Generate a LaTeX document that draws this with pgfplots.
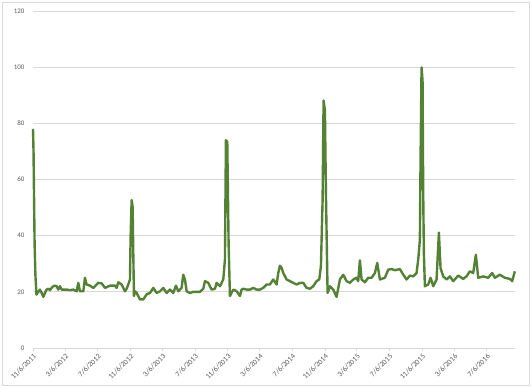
\documentclass[border=0pt]{standalone}
\usepackage{pgfplots}
\pgfplotsset{compat=1.18}
\usepackage{fontspec}
\setmainfont{Carlito}
\definecolor{linegreen}{RGB}{84,130,53}
\definecolor{gridgray}{RGB}{217,217,217}
\definecolor{labelgray}{RGB}{89,89,89}
\begin{document}
\begin{tikzpicture}
\path (0,0) rectangle (532bp,388bp);
\draw[gridgray, line width=0.6bp] (2.5bp,2.5bp) rectangle (529.5bp,385.5bp);
\begin{axis}[
  at={(33bp,40bp)}, anchor=south west,
  scale only axis, width=482bp, height=337bp,
  xmin=0, xmax=1810, ymin=0, ymax=120,
  ytick={0,20,...,120},
  xtick={0,121,243,366,486,608,731,851,973,1096,1216,1338,1461,1582,1704},
  xticklabels={11/6/2011,3/6/2012,7/6/2012,11/6/2012,3/6/2013,7/6/2013,11/6/2013,3/6/2014,7/6/2014,11/6/2014,3/6/2015,7/6/2015,11/6/2015,3/6/2016,7/6/2016},
  axis x line*=bottom, axis y line*=left,
  x axis line style={gridgray, line width=0.7bp, -},
  y axis line style={draw=none},
  ymajorgrids, grid style={gridgray, line width=0.7bp},
  major tick length=3bp,
  xtick style={gridgray, line width=0.7bp},
  tick align=outside,
  ytick style={draw=none},
  /pgf/number format/assume math mode=true,
  every tick label/.append style={font=\fontsize{7}{8}\selectfont, text=labelgray},
  xticklabel style={rotate=45, anchor=north east, inner sep=1.5bp, font=\fontsize{7.5}{8}\selectfont},
  yticklabel style={anchor=east, xshift=-2bp},
  clip=false,
]
\addplot[linegreen, line width=2.4bp, line join=round, no marks] coordinates {
(0,78)(2,70)(4,53)(6,37)(9,26)(13,19)(20,20)(26,20.8)(32.5,19.6)(38.8,18.2)(45,19.6)(51,20.8)(57.6,21.1)(63.8,20.6)(70,21.4)(76.3,22.0)(82.6,22.2)(88.8,22.0)(95,20.8)(101.4,22.0)(107.6,20.8)(113.9,20.8)(126.4,20.8)(138.9,20.6)(151.4,20.8)(164,20.2)(170,23.2)(176.4,20.2)(189,20.2)(195,25.0)(201.5,22.6)(214,22.2)(226.5,21.4)(245.3,23.2)(257.8,23.0)(270.3,21.4)(289,22.2)(307.8,22.2)(314,21.4)(320.3,23.4)(332.8,22.6)(345.4,20.2)(351.6,21.1)(357.9,22.6)(364.1,24.4)(366.6,39.7)(370.4,52.7)(374.1,50.3)(376.6,33.8)(379.1,18.5)(382.9,20.2)(389.2,19.6)(401.7,17.3)(414.2,17.3)(426.7,19.1)(439.2,19.6)(451.7,21.4)(464.2,19.6)(476.7,20.2)(489.3,21.4)(501.8,19.6)(514.3,20.8)(526.8,19.6)(536.8,22.2)(545.6,20.2)(558.1,21.4)(564.3,26.1)(570.6,24.4)(576.9,20.2)(589.4,19.6)(601.9,20)(626.9,20)(639.4,21.1)(645.7,23.8)(658.2,23.2)(670.7,20.8)(683.2,21.1)(689.5,23.2)(702,22.0)(714.5,24.4)(720.8,31.5)(724.5,74)(729.5,73.4)(734.5,37.4)(739.5,18.5)(752,20.8)(764.6,20.2)(777.1,18.5)(783.3,20.8)(789.6,21.1)(802.1,20.8)(814.6,20.8)(827.1,21.4)(839.6,20.8)(852.1,20.8)(864.6,21.4)(877.1,22.6)(889.6,22.6)(902.3,24.4)(914.8,22.6)(921,26.7)(927.3,29.3)(933.5,28.5)(939.8,26.7)(952.3,24.4)(964.8,23.8)(977.3,23.2)(989.8,22.6)(1002.4,23.2)(1014.9,23.2)(1027.4,21.4)(1039.9,21.1)(1052.4,22.0)(1064.9,23.8)(1074.9,24.4)(1081.2,29.1)(1087.5,52.7)(1091.2,88.1)(1096.2,84.6)(1100,55)(1102.5,40.9)(1106.2,19.6)(1115,22.0)(1127.5,20.8)(1140,18.2)(1152.5,24.4)(1165,26.1)(1177.5,23.8)(1190,23.2)(1202.6,24.4)(1215,25.0)(1221.3,23.8)(1227.6,31.2)(1233.8,24.4)(1246.4,23.4)(1258.9,25.0)(1271.4,25.0)(1283.9,26.7)(1292.7,30.3)(1302.7,24.4)(1321.4,25.0)(1334,27.9)(1346.5,28.1)(1359,27.7)(1377.7,28.1)(1390.3,26.1)(1402.8,24.4)(1415.3,25.8)(1427.8,25.5)(1440.3,26.7)(1446.6,31.5)(1452.8,38.5)(1455.3,66.9)(1459.1,99.9)(1462.8,95.2)(1465.3,55.1)(1467.8,33.8)(1471.6,22.0)(1484.1,22.6)(1492.9,25.0)(1502.9,22.0)(1515.4,24.4)(1524.2,41.1)(1530.4,28.5)(1540.4,25.5)(1553,24.4)(1565.5,25.5)(1578,23.8)(1596.7,25.8)(1615.5,24.6)(1628,25.5)(1640.5,27.3)(1653,26.7)(1663,33.2)(1671.8,25.0)(1690.5,25.5)(1709.3,25.0)(1724.4,26.7)(1734.4,25.0)(1753.1,26.1)(1771.9,25.0)(1790.7,24.6)(1799.4,23.8)(1809.4,27.3)
};
\end{axis}
\end{tikzpicture}
\end{document}
